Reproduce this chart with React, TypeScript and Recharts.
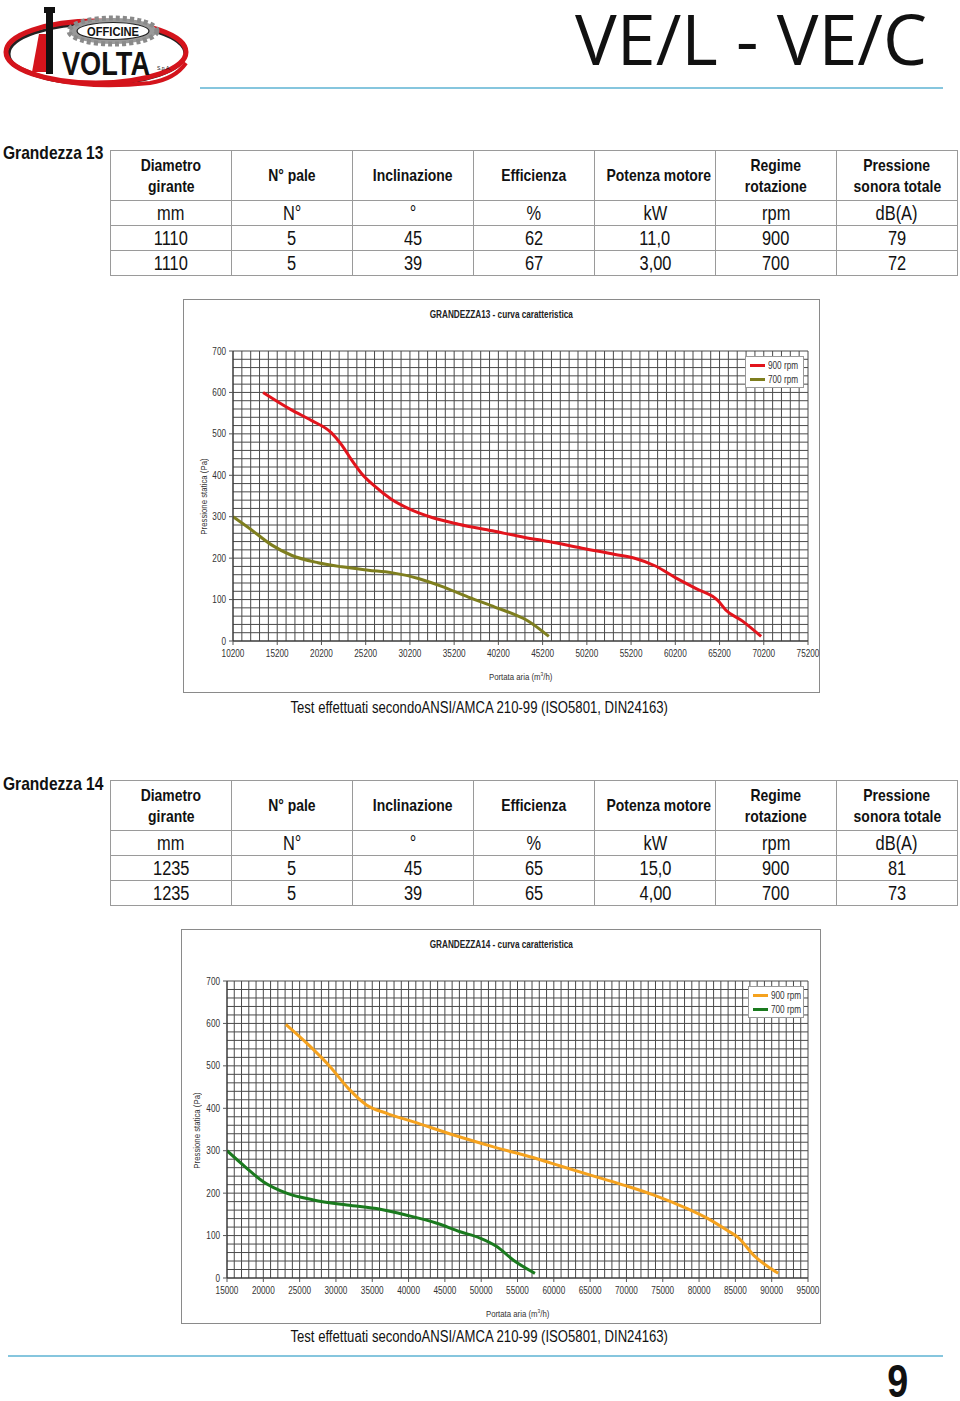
import React from 'react';
import { LineChart, Line, XAxis, YAxis, CartesianGrid, Legend } from 'recharts';

// ---------- table data ----------
const tableHeaders = ['Diametro\ngirante', 'N°  pale', 'Inclinazione', 'Efficienza', 'Potenza motore', 'Regime\nrotazione', 'Pressione\nsonora totale'];
const tableUnits = ['mm', 'N°', '°', '%', 'kW', 'rpm', 'dB(A)'];
const g13Rows = [
  ['1110', '5', '45', '62', '11,0', '900', '79'],
  ['1110', '5', '39', '67', '3,00', '700', '72'],
];
const g14Rows = [
  ['1235', '5', '45', '65', '15,0', '900', '81'],
  ['1235', '5', '39', '65', '4,00', '700', '73'],
];

// ---------- chart data ----------
const g13XTicks = [10200, 15200, 20200, 25200, 30200, 35200, 40200, 45200, 50200, 55200, 60200, 65200, 70200, 75200];
const g14XTicks = [15000, 20000, 25000, 30000, 35000, 40000, 45000, 50000, 55000, 60000, 65000, 70000, 75000, 80000, 85000, 90000, 95000];
const yTicks = [0, 100, 200, 300, 400, 500, 600, 700];
const seriesNames = ['900 rpm', '700 rpm'];

const g13Rpm900 = [
  { q: 13600, p: 600 }, { q: 16800, p: 558 }, { q: 19100, p: 532 }, { q: 21300, p: 503 },
  { q: 22500, p: 473 }, { q: 23600, p: 437 }, { q: 24700, p: 405 }, { q: 26250, p: 373 },
  { q: 28100, p: 342 }, { q: 30000, p: 320 }, { q: 32700, p: 298 }, { q: 35700, p: 282 },
  { q: 39500, p: 266 }, { q: 43200, p: 250 }, { q: 45900, p: 240 }, { q: 49650, p: 224 },
  { q: 53400, p: 209 }, { q: 55700, p: 199 }, { q: 57950, p: 181 }, { q: 60200, p: 153 },
  { q: 62500, p: 127 }, { q: 65000, p: 98 }, { q: 65900, p: 75 }, { q: 67800, p: 48 },
  { q: 69900, p: 11 },
];
const g13Rpm700 = [
  { q: 10200, p: 300 }, { q: 12300, p: 268 }, { q: 14550, p: 232 }, { q: 16800, p: 207 },
  { q: 19800, p: 189 }, { q: 22500, p: 179 }, { q: 25500, p: 171 }, { q: 28100, p: 165 },
  { q: 31150, p: 151 }, { q: 33800, p: 132 }, { q: 36800, p: 106 }, { q: 39800, p: 82 },
  { q: 42000, p: 64 }, { q: 43500, p: 49 }, { q: 45900, p: 11 },
];
const g14Rpm900 = [
  { q: 23100, p: 598 }, { q: 26200, p: 550 }, { q: 29200, p: 498 }, { q: 31700, p: 447 },
  { q: 34200, p: 408 }, { q: 37000, p: 388 }, { q: 40700, p: 368 }, { q: 46200, p: 337 },
  { q: 51700, p: 309 }, { q: 57900, p: 280 }, { q: 60900, p: 264 }, { q: 65500, p: 240 },
  { q: 70000, p: 217 }, { q: 73700, p: 196 }, { q: 78300, p: 164 }, { q: 81100, p: 141 },
  { q: 83800, p: 113 }, { q: 85400, p: 95 }, { q: 87500, p: 54 }, { q: 90900, p: 11 },
];
const g14Rpm700 = [
  { q: 15000, p: 300 }, { q: 17500, p: 262 }, { q: 20000, p: 227 }, { q: 23200, p: 200 },
  { q: 26900, p: 184 }, { q: 31500, p: 172 }, { q: 36100, p: 162 }, { q: 39750, p: 148 },
  { q: 43900, p: 129 }, { q: 47100, p: 109 }, { q: 49850, p: 94 }, { q: 52150, p: 74 },
  { q: 54450, p: 42 }, { q: 57400, p: 11 },
];

const SANS = '"Liberation Sans", Arial, sans-serif';
const NX = 0.82; // horizontal squeeze to imitate a narrow face

const Narrow = ({ children, origin = 'center' }: { children: any; origin?: string }) => (
  <span style={{ display: 'inline-block', transform: `scaleX(${NX})`, transformOrigin: origin, whiteSpace: 'nowrap' }}>{children}</span>
);

const XTick = (props: any) => {
  const { x, y, payload } = props;
  return (
    <text transform={`translate(${x},${y}) scale(${NX},1)`} x={0} y={0} dy="0.75em" textAnchor="middle" fill="#333" fontSize={10} fontFamily={SANS}>
      {payload.value}
    </text>
  );
};
const YTick = (props: any) => {
  const { x, y, payload } = props;
  return (
    <text transform={`translate(${x},${y}) scale(${NX},1)`} x={0} y={0} dy="0.36em" textAnchor="end" fill="#333" fontSize={10} fontFamily={SANS}>
      {payload.value}
    </text>
  );
};

const renderLegend = (props: any) => {
  const payload = [...(props.payload || [])].sort((a: any, b: any) => seriesNames.indexOf(a.value) - seriesNames.indexOf(b.value));
  return (
    <div style={{ border: '1px solid #9a9a9a', background: '#fff', padding: '1px 2px 1px 4px', fontFamily: SANS, fontSize: 10, color: '#333', boxSizing: 'border-box', width: '100%' }}>
      {payload.map((e: any) => (
        <div key={e.value} style={{ display: 'flex', alignItems: 'center', height: 14, whiteSpace: 'nowrap' }}>
          <span style={{ display: 'inline-block', width: 15, height: 3, background: e.color, marginRight: 3, flex: '0 0 auto' }} />
          <Narrow origin="left">{e.value}</Narrow>
        </div>
      ))}
    </div>
  );
};

type ChartProps = {
  left: number; top: number; width: number; height: number;
  plotLeft: number; plotTop: number; plotRight: number; plotBottom: number;
  title: string; xDomain: [number, number]; xTicks: number[]; xStep: number;
  s900: any[]; s700: any[]; c900: string; c700: string;
  legendLeft: number; legendTop: number; legendWidth: number;
  yTitleX: number; xTitleY: number; xTitleCx: number;
};

function PerfChart(c: ChartProps) {
  const [d0, d1] = c.xDomain;
  const vGen = ({ offset }: any) => {
    const out: number[] = [];
    for (let v = d0; v <= d1 + 0.01; v += c.xStep) out.push(offset.left + ((v - d0) / (d1 - d0)) * offset.width);
    return out;
  };
  const hGen = ({ offset }: any) => {
    const out: number[] = [];
    for (let v = 0; v <= 700.01; v += 20) out.push(offset.top + offset.height - (v / 700) * offset.height);
    return out;
  };
  const plotMidY = (c.plotTop + (c.height - c.plotBottom)) / 2;
  return (
    <div style={{ position: 'absolute', left: c.left, top: c.top, width: c.width, height: c.height, border: '1px solid #8a8a8a', boxSizing: 'border-box', background: '#fff' }}>
      <div style={{ position: 'absolute', left: 0, width: '100%', top: 9, textAlign: 'center', fontFamily: SANS, fontWeight: 'bold', fontSize: 10, color: '#222', whiteSpace: 'pre' }}>
        <Narrow>{c.title}</Narrow>
      </div>
      <div style={{ position: 'absolute', left: c.yTitleX - 60, top: plotMidY - 6, width: 120, textAlign: 'center', transform: 'rotate(-90deg)', fontFamily: SANS, fontSize: 9.5, color: '#333', lineHeight: '12px' }}>
        <Narrow>Pressione statica (Pa)</Narrow>
      </div>
      <div style={{ position: 'absolute', left: c.xTitleCx - 60, top: c.xTitleY - 6, width: 120, textAlign: 'center', fontFamily: SANS, fontSize: 9.5, color: '#333', lineHeight: '12px' }}>
        <Narrow>Portata aria (m<sup style={{ fontSize: 6 }}>3</sup>/h)</Narrow>
      </div>
      <div style={{ position: 'absolute', left: -1, top: -1 }}>
        <LineChart width={c.width} height={c.height} margin={{ top: c.plotTop, right: c.plotRight, bottom: 0, left: 0 }}>
          <CartesianGrid stroke="#4a4a4a" strokeWidth={1} verticalCoordinatesGenerator={vGen} horizontalCoordinatesGenerator={hGen} />
          <XAxis type="number" dataKey="q" domain={c.xDomain} ticks={c.xTicks} interval={0} height={c.plotBottom}
            tick={<XTick />} tickLine={{ stroke: '#555' }} tickSize={4} tickMargin={4} axisLine={{ stroke: '#333' }} allowDataOverflow />
          <YAxis type="number" domain={[0, 700]} ticks={yTicks} interval={0} width={c.plotLeft}
            tick={<YTick />} tickLine={{ stroke: '#555' }} tickSize={4} tickMargin={3} axisLine={{ stroke: '#333' }} allowDataOverflow />
          <Legend layout="horizontal" verticalAlign="middle" align="center" content={renderLegend}
            wrapperStyle={{ position: 'absolute', left: c.legendLeft, top: c.legendTop, width: c.legendWidth, height: 'auto' }} />
          <Line data={c.s900} dataKey="p" name={seriesNames[0]} type="monotone" stroke={c.c900} strokeWidth={3} dot={false} isAnimationActive={false} />
          <Line data={c.s700} dataKey="p" name={seriesNames[1]} type="monotone" stroke={c.c700} strokeWidth={3} dot={false} isAnimationActive={false} />
        </LineChart>
      </div>
    </div>
  );
}

function SpecTable({ top, rows }: { top: number; rows: string[][] }) {
  const cell: React.CSSProperties = { border: '1px solid #9a9a9a', padding: 0, textAlign: 'center', verticalAlign: 'middle', color: '#111', overflow: 'hidden' };
  return (
    <table style={{ position: 'absolute', left: 110, top, width: 848, borderCollapse: 'collapse', tableLayout: 'fixed', fontFamily: SANS }}>
      <tbody>
        <tr style={{ height: 50 }}>
          {tableHeaders.map((h) => (
            <td key={h} style={{ ...cell, fontWeight: 'bold', fontSize: 17, lineHeight: '21px' }}>
              {h.split('\n').map((l, i) => <div key={i}><Narrow>{l}</Narrow></div>)}
            </td>
          ))}
        </tr>
        <tr style={{ height: 25 }}>
          {tableUnits.map((u, i) => <td key={i} style={{ ...cell, fontSize: 20, lineHeight: '22px' }}><Narrow>{u}</Narrow></td>)}
        </tr>
        {rows.map((r, ri) => (
          <tr key={ri} style={{ height: 25 }}>
            {r.map((v, i) => <td key={i} style={{ ...cell, fontSize: 20, lineHeight: '22px' }}><Narrow>{v}</Narrow></td>)}
          </tr>
        ))}
      </tbody>
    </table>
  );
}

function Logo() {
  return (
    <svg width={200} height={95} style={{ position: 'absolute', left: 0, top: 0 }}>
      <ellipse cx={97} cy={54} rx={88} ry={30} fill="#fff" stroke="#222" strokeWidth={3} />
      <ellipse cx={96} cy={52} rx={90} ry={31} fill="none" stroke="#d4141c" strokeWidth={5} />
      <path d="M 12 64 Q 60 92 150 83 Q 175 79 186 63" fill="none" stroke="#d4141c" strokeWidth={4} />
      <ellipse cx={113} cy={31} rx={44} ry={13} fill="#9a9a9a" stroke="#8a8a8a" strokeWidth={5} strokeDasharray="4 3" />
      <ellipse cx={113} cy={31} rx={36} ry={8.5} fill="#fff" stroke="#222" strokeWidth={1.2} />
      <text x={87} y={35.5} textLength={52} lengthAdjust="spacingAndGlyphs" fontFamily={SANS} fontSize={12} fontWeight="bold" fill="#111">OFFICINE</text>
      <path d="M 32 72 L 39 34 L 46 34 L 46 72 Z" fill="#d4141c" />
      <rect x={46} y={11} width={7} height={63} fill="#111" />
      <rect x={44} y={7} width={11} height={6} fill="#111" />
      <text x={62} y={75} textLength={88} lengthAdjust="spacingAndGlyphs" fontFamily={SANS} fontSize={33} fontWeight="bold" fill="#111">VOLTA</text>
      <text x={157} y={70} fontFamily={SANS} fontSize={5} fill="#111">S.p.A.</text>
    </svg>
  );
}

const testText = 'Test effettuati secondoANSI/AMCA 210-99 (ISO5801, DIN24163)';

export default function App() {
  return (
    <div style={{ position: 'absolute', left: 0, top: 0, width: 960, height: 1401, background: '#fff', overflow: 'hidden' }}>
      <Logo />
      <div style={{ position: 'absolute', left: 575, top: 0, fontFamily: '"Open Sans", "DejaVu Sans", sans-serif', fontSize: 70, color: '#111', whiteSpace: 'pre', lineHeight: '76px' }}>VE/L - VE/C</div>
      <div style={{ position: 'absolute', left: 200, top: 87, width: 743, height: 2, background: '#86c6de' }} />

      <div style={{ position: 'absolute', left: 3, top: 142, fontFamily: SANS, fontWeight: 'bold', fontSize: 19, color: '#111' }}><Narrow origin="left">Grandezza 13</Narrow></div>
      <SpecTable top={150} rows={g13Rows} />

      <PerfChart left={183} top={299} width={637} height={394}
        plotLeft={50} plotTop={52} plotRight={12} plotBottom={52}
        title="GRANDEZZA13 - curva caratteristica" xDomain={[10200, 75200]} xTicks={g13XTicks} xStep={1000}
        s900={g13Rpm900} s700={g13Rpm700} c900="#e2141c" c700="#7e7e1e"
        legendLeft={562} legendTop={57} legendWidth={59}
        yTitleX={20} xTitleY={374} xTitleCx={337} />

      <div style={{ position: 'absolute', left: 0, width: 958, top: 699, textAlign: 'center', fontFamily: SANS, fontSize: 16, color: '#111' }}><Narrow>{testText}</Narrow></div>

      <div style={{ position: 'absolute', left: 3, top: 773, fontFamily: SANS, fontWeight: 'bold', fontSize: 19, color: '#111' }}><Narrow origin="left">Grandezza 14</Narrow></div>
      <SpecTable top={780} rows={g14Rows} />

      <PerfChart left={181} top={929} width={640} height={395}
        plotLeft={46} plotTop={52} plotRight={13} plotBottom={46}
        title="GRANDEZZA14  -  curva  caratteristica" xDomain={[15000, 95000]} xTicks={g14XTicks} xStep={1000}
        s900={g14Rpm900} s700={g14Rpm700} c900="#f5a21e" c700="#1a7a1e"
        legendLeft={567} legendTop={57} legendWidth={56}
        yTitleX={15} xTitleY={381} xTitleCx={336} />

      <div style={{ position: 'absolute', left: 0, width: 958, top: 1328, textAlign: 'center', fontFamily: SANS, fontSize: 16, color: '#111' }}><Narrow>{testText}</Narrow></div>

      <div style={{ position: 'absolute', left: 8, top: 1355, width: 935, height: 2, background: '#86c6de' }} />
      <div style={{ position: 'absolute', left: 880, top: 1361, width: 36, textAlign: 'center', fontFamily: SANS, fontWeight: 'bold', fontSize: 46, color: '#111', lineHeight: '40px', height: 40 }}>
        <Narrow>9</Narrow>
      </div>
    </div>
  );
}
